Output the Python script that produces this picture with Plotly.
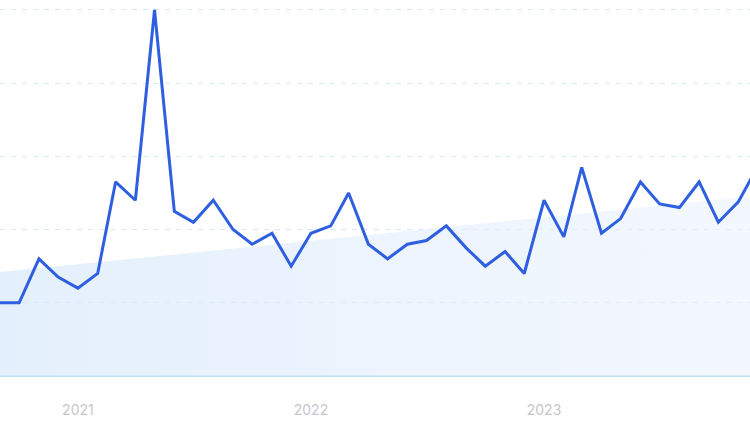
import plotly.graph_objects as go
import pandas as pd

# Monthly interest values, Sep 2020 .. Dec 2023
months = pd.date_range("2020-09-01", periods=40, freq="MS")
values = [20, 20, 32, 27, 24, 28, 53, 48, 100, 45, 42, 48,
          40, 36, 39, 30, 39, 41, 50, 36, 32, 36, 37, 41,
          35, 30, 34, 28, 48, 38, 57, 39, 43, 53, 47, 46,
          53, 42, 47.5, 57]

# Linear trend band (start, end)
trend_dates = [months[0], months[-1]]
trend_values = [28.4, 49.2]

tick_vals = ["2021-01-01", "2022-01-01", "2023-01-01"]
tick_text = ["2021", "2022", "2023"]

fig = go.Figure()
fig.add_trace(go.Scatter(
    x=trend_dates, y=trend_values, mode="lines",
    line=dict(width=0), fill="tozeroy",
    fillgradient=dict(type="horizontal",
                      colorscale=[[0, "rgba(216,233,251,0.7)"], [1, "rgba(236,243,254,0.6)"]]),
    hoverinfo="skip", showlegend=False,
))
fig.add_trace(go.Scatter(
    x=months, y=values, mode="lines",
    line=dict(color="#2e5fe0", width=3),
    showlegend=False,
))

fig.update_layout(
    width=750, height=432,
    margin=dict(l=0, r=0, t=0, b=56),
    paper_bgcolor="white", plot_bgcolor="white",
    font=dict(family="Inter, Roboto, sans-serif"),
)
fig.update_xaxes(
    range=["2020-09-01", "2023-11-19 14:00"],
    tickvals=tick_vals, ticktext=tick_text,
    showgrid=False, zeroline=False, showline=False,
    ticks="", ticklabelstandoff=24,
    tickfont=dict(size=14, color="#c6c6cb"),
)
fig.update_yaxes(
    range=[0, 102.7], dtick=20, tick0=0,
    showticklabels=False, showgrid=True,
    gridcolor="#d8e4fb", griddash="5px,6px", gridwidth=1,
    zeroline=True, zerolinecolor="#bfe2fb", zerolinewidth=1.5,
    showline=False,
)

fig.write_html("out.html", config={"displayModeBar": False},
               post_script="document.body.style.margin='0';")
